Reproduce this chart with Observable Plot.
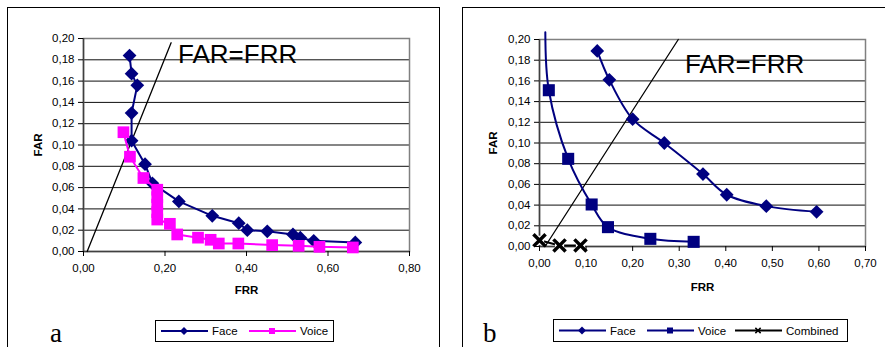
<!DOCTYPE html>
<html><head><meta charset="utf-8">
<script src="https://cdn.jsdelivr.net/npm/d3@7"></script>
<script src="https://cdn.jsdelivr.net/npm/@observablehq/plot@0.6"></script>
<style>
body{margin:0;width:885px;height:347px;overflow:hidden;background:#fff;position:relative;font-family:"Liberation Sans",Arial,sans-serif;}
.frame{position:absolute;border:1px solid #000;box-sizing:border-box;}
.abs{position:absolute;}
svg [aria-label="x-axis label"], svg [aria-label="y-axis label"]{font-weight:bold;font-size:11.5px;}
</style></head><body>
<div class="frame" style="left:7px;top:7px;width:433px;height:400px"></div>
<div class="frame" style="left:462px;top:7px;width:500px;height:400px"></div>
<div id="a" class="abs" style="left:0;top:0"></div>
<div id="b" class="abs" style="left:440px;top:0"></div>
<svg id="ov" class="abs" style="left:0;top:0" width="885" height="347"></svg>
<script>
// ---------- data ----------
const yTicks = [0, 0.02, 0.04, 0.06, 0.08, 0.10, 0.12, 0.14, 0.16, 0.18, 0.20];
const xTicksA = [0, 0.2, 0.4, 0.6, 0.8];
const xTicksB = [0, 0.1, 0.2, 0.3, 0.4, 0.5, 0.6, 0.7];
const seriesA = ["Face", "Voice"];
const seriesB = ["Face", "Voice", "Combined"];
const eqLabel = "FAR=FRR";
const panelLetters = ["a", "b"];

// panel a
const faceA_frr = [0.113, 0.118, 0.132, 0.118, 0.118, 0.151, 0.169, 0.234, 0.316, 0.381, 0.402, 0.451, 0.514, 0.532, 0.565, 0.667];
const faceA_far = [0.184, 0.167, 0.156, 0.130, 0.104, 0.082, 0.064, 0.047, 0.0335, 0.0266, 0.020, 0.019, 0.016, 0.013, 0.010, 0.0085];
const voiceA_frr = [0.098, 0.114, 0.147, 0.181, 0.181, 0.181, 0.181, 0.181, 0.212, 0.230, 0.281, 0.312, 0.332, 0.380, 0.463, 0.528, 0.579, 0.661];
const voiceA_far = [0.112, 0.089, 0.069, 0.058, 0.051, 0.044, 0.037, 0.030, 0.026, 0.016, 0.013, 0.011, 0.0075, 0.0075, 0.006, 0.0053, 0.0044, 0.0038];
const eqA_frr = [0.009, 0.215];
const eqA_far = [0, 0.196];

// panel b
const faceB_frr = [0.124, 0.150, 0.200, 0.268, 0.351, 0.402, 0.487, 0.595];
const faceB_far = [0.189, 0.161, 0.123, 0.100, 0.070, 0.050, 0.039, 0.0335];
const voiceB_frr = [0.0125, 0.020, 0.0616, 0.112, 0.147, 0.238, 0.331];
const voiceB_far = [0.207, 0.151, 0.0847, 0.0406, 0.0187, 0.0074, 0.0045];
const combB_frr = [0.000, 0.043, 0.088];
const combB_far = [0.006, 0.001, 0.001];
const eqB_frr = [0.012, 0.298];
const eqB_far = [0, 0.20];

// ---------- helpers ----------
const zip = (xs, ys) => xs.map((x, i) => ({frr: x, far: ys[i]}));
const fmt = d => d.toFixed(2).replace(".", ",");
const NAVY = "#000080", MAG = "#ff00ff";
const baseStyle = {background: "transparent", fontFamily: "Liberation Sans, Arial, sans-serif", fontSize: "11.5px", color: "#000", overflow: "visible"};

function frameMarks(xTicks, xLabelOffset, yLabelOffset) {
  return [
    Plot.gridY(yTicks, {stroke: "#000", strokeOpacity: 0.95}),
    Plot.frame({stroke: "#808080", strokeWidth: 1.5}),
    Plot.ruleX([0], {stroke: "#404040", strokeWidth: 1.5}),
    Plot.ruleY([0], {stroke: "#404040", strokeWidth: 1.5}),
    Plot.axisX(xTicks, {tickFormat: fmt, tickSize: 5, tickPadding: 7, label: "FRR", labelAnchor: "center", labelOffset: xLabelOffset, labelArrow: "none"}),
    Plot.axisY(yTicks, {tickFormat: fmt, tickSize: 5, tickPadding: 4, label: "FAR", labelAnchor: "center", labelOffset: yLabelOffset, labelArrow: "none"})
  ];
}

const faceA = zip(faceA_frr, faceA_far), voiceA = zip(voiceA_frr, voiceA_far), eqA = zip(eqA_frr, eqA_far);
const faceB = zip(faceB_frr, faceB_far), voiceB = zip(voiceB_frr, voiceB_far), combB = zip(combB_frr, combB_far), eqB = zip(eqB_frr, eqB_far);

const plotA = Plot.plot({
  width: 440, height: 300,
  marginLeft: 83, marginRight: 31, marginTop: 38, marginBottom: 49,
  style: baseStyle,
  x: {domain: [0, 0.8]},
  y: {domain: [0, 0.2]},
  marks: [
    ...frameMarks(xTicksA, 42, 50),
    Plot.line(eqA, {x: "frr", y: "far", stroke: "#000", strokeWidth: 1.3}),
    Plot.line(faceA, {x: "frr", y: "far", stroke: NAVY, strokeWidth: 2}),
    Plot.dot(faceA, {x: "frr", y: "far", symbol: "diamond2", fill: NAVY, r: 6.2}),
    Plot.line(voiceA, {x: "frr", y: "far", stroke: MAG, strokeWidth: 2}),
    Plot.dot(voiceA, {x: "frr", y: "far", symbol: "square", fill: MAG, r: 6.6})
  ]
});
document.getElementById("a").append(plotA);

const inRange = d => d.far <= 0.2;
const plotB = Plot.plot({
  width: 445, height: 300,
  marginLeft: 99, marginRight: 20, marginTop: 39, marginBottom: 54,
  style: baseStyle,
  x: {domain: [0, 0.7]},
  y: {domain: [0, 0.2]},
  marks: [
    ...frameMarks(xTicksB, 44, 51),
    Plot.line(eqB, {x: "frr", y: "far", stroke: "#000", strokeWidth: 1.3}),
    Plot.line(faceB, {x: "frr", y: "far", stroke: NAVY, strokeWidth: 2, curve: "catmull-rom"}),
    Plot.dot(faceB, {x: "frr", y: "far", symbol: "diamond2", fill: NAVY, r: 6.2}),
    Plot.line(voiceB, {x: "frr", y: "far", stroke: NAVY, strokeWidth: 2, curve: "catmull-rom"}),
    Plot.dot(voiceB, {x: "frr", y: "far", filter: inRange, symbol: "square", fill: NAVY, r: 6.8}),
    Plot.line(combB, {x: "frr", y: "far", stroke: "#000", strokeWidth: 2}),
    Plot.dot(combB, {x: "frr", y: "far", symbol: "square", fill: "#fff", stroke: "none", r: 5.2}),
    Plot.dot(combB, {x: "frr", y: "far", symbol: "times", stroke: "#000", strokeWidth: 3.5, r: 5.6})
  ]
});
document.getElementById("b").append(plotB);

// ---------- annotations & legends ----------
const ov = d3.select("#ov");
ov.append("text").attr("x", 178).attr("y", 62.5).attr("font-family", "Liberation Sans, Arial, sans-serif").attr("font-size", 26).text(eqLabel);
ov.append("text").attr("x", 685).attr("y", 73).attr("font-family", "Liberation Sans, Arial, sans-serif").attr("font-size", 26).text(eqLabel);
ov.append("text").attr("x", 50).attr("y", 342).attr("font-family", "Liberation Serif, Times New Roman, serif").attr("font-size", 27).text(panelLetters[0]);
ov.append("text").attr("x", 483).attr("y", 342).attr("font-family", "Liberation Serif, Times New Roman, serif").attr("font-size", 27).text(panelLetters[1]);

const legendStyles = {
  a: [{color: NAVY, sym: d3.symbolDiamond2, size: 40, fill: true}, {color: MAG, sym: d3.symbolSquare, size: 36, fill: true}],
  b: [{color: NAVY, sym: d3.symbolDiamond2, size: 40, fill: true}, {color: NAVY, sym: d3.symbolSquare, size: 36, fill: true}, {color: "#000", sym: d3.symbolTimes, size: 20, fill: false}]
};
function legend(x, y, w, h, names, styles) {
  const g = ov.append("g").attr("transform", `translate(${x},${y})`);
  g.append("rect").attr("x", 0.5).attr("y", 0.5).attr("width", w).attr("height", h).attr("fill", "#fff").attr("stroke", "#000");
  names.forEach((n, i) => {
    const s = styles[i], x0 = 6 + i * 88, cy = h / 2 + 0.5;
    g.append("line").attr("x1", x0).attr("x2", x0 + 47).attr("y1", cy).attr("y2", cy).attr("stroke", s.color).attr("stroke-width", 2);
    g.append("path").attr("d", d3.symbol(s.sym, s.size)()).attr("transform", `translate(${x0 + 23},${cy})`)
      .attr("fill", s.fill ? s.color : "none").attr("stroke", s.fill ? "none" : s.color).attr("stroke-width", 1.5);
    g.append("text").attr("x", x0 + 51).attr("y", cy + 4).attr("font-family", "Liberation Sans, Arial, sans-serif").attr("font-size", 11.5).text(n);
  });
}
legend(155, 320, 178, 21, seriesA, legendStyles.a);
legend(553, 319, 294, 22, seriesB, legendStyles.b);
</script>
</body></html>
